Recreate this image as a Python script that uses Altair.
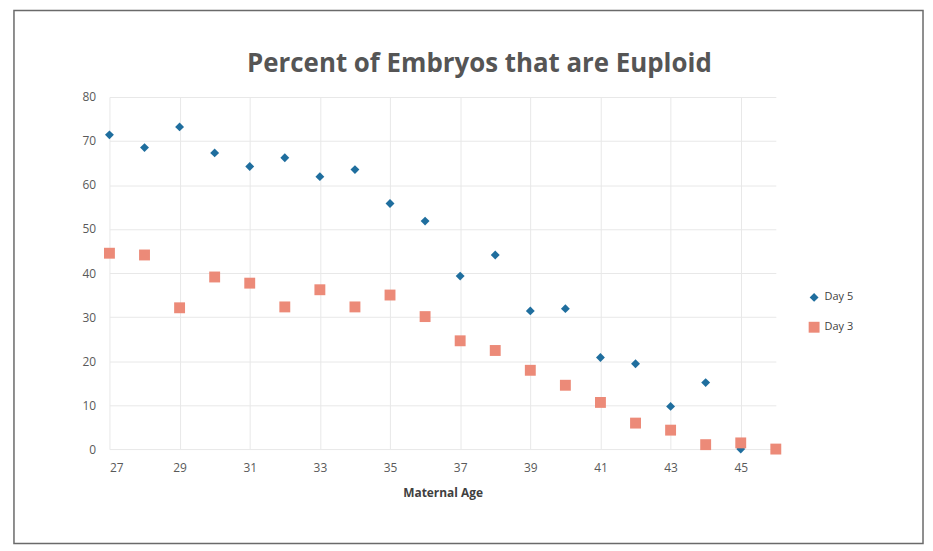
import altair as alt
import pandas as pd

ages5 = list(range(27, 46))
day5 = [71.4, 68.5, 73.2, 67.3, 64.2, 66.2, 61.9, 63.5, 55.8, 51.8, 39.3, 44.1,
        31.4, 31.9, 20.8, 19.4, 9.7, 15.1, 0.0]
ages3 = list(range(27, 47))
day3 = [44.5, 44.1, 32.1, 39.1, 37.7, 32.3, 36.2, 32.3, 35.0, 30.1, 24.6, 22.4,
        17.9, 14.5, 10.6, 5.9, 4.3, 1.0, 1.4, 0.0]
series = ["Day 5", "Day 3"]
x_ticks = list(range(27, 46, 2))
y_ticks = list(range(0, 81, 10))
title_text = "Percent of Embryos that are Euploid"

df = pd.concat([
    pd.DataFrame({"age": ages5, "pct": day5, "series": series[0]}),
    pd.DataFrame({"age": ages3, "pct": day3, "series": series[1]}),
])

W, H = 670, 354

points = alt.Chart(df).mark_point(filled=True, opacity=1).encode(
    x=alt.X("age:Q", scale=alt.Scale(domain=[27, 46], nice=False, zero=False),
            axis=alt.Axis(values=x_ticks, title="Maternal Age", grid=True,
                          gridColor="#e8e8e8", domain=False, ticks=False,
                          labelFontSize=12, labelColor="#595959", labelPadding=14,
                          titleFontSize=12, titleColor="#404040", titleFontWeight="bold",
                          titlePadding=14, labelFont="Open Sans", titleFont="Open Sans")),
    y=alt.Y("pct:Q", scale=alt.Scale(domain=[0, 80], nice=False),
            axis=alt.Axis(values=y_ticks, title=None, grid=True, gridColor="#e8e8e8",
                          domain=False, ticks=False, labelFontSize=12,
                          labelColor="#595959", labelPadding=14, labelFont="Open Sans")),
    color=alt.Color("series:N", scale=alt.Scale(domain=series, range=["#1f6e9e", "#ec8a78"]),
                    legend=alt.Legend(title=None, orient="none", legendX=702, legendY=196,
                                      labelFontSize=11, labelColor="#404040",
                                      rowPadding=18, symbolSize=55, labelFont="Open Sans")),
    shape=alt.Shape("series:N", scale=alt.Scale(domain=series, range=["diamond", "square"]),
                    legend=None),
    size=alt.Size("series:N", scale=alt.Scale(domain=series, range=[80, 120]), legend=None),
)

frame = alt.Chart(pd.DataFrame({"a": [0]})).mark_rect(
    fill=None, stroke="#6a6a6a", strokeWidth=1.5
).encode(x=alt.value(-96), x2=alt.value(818), y=alt.value(-87), y2=alt.value(449))

title = alt.Chart(pd.DataFrame({"t": [title_text]})).mark_text(
    font="Open Sans", fontSize=26, fontWeight="bold", color="#555555",
    align="center", baseline="middle"
).encode(text="t:N", x=alt.value(372), y=alt.value(-33))

chart = alt.layer(frame, points, title).properties(
    width=W, height=H,
    autosize=alt.AutoSizeParams(type="none"),
    padding={"left": 102, "top": 88, "right": 150, "bottom": 98},
).configure_view(stroke=None)

chart.save("out.html", embed_options={"renderer": "svg", "actions": False})
